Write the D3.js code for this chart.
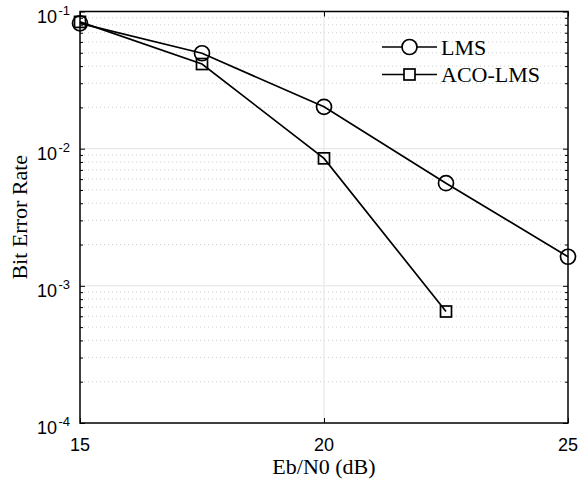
<!DOCTYPE html>
<html>
<head>
<meta charset="utf-8">
<script src="https://cdn.jsdelivr.net/npm/d3@7"></script>
<style>
  html, body { margin: 0; padding: 0; background: #fff; }
  svg { display: block; }
</style>
</head>
<body>
<svg id="chart" width="584" height="483"></svg>
<script>
// Bit error rate versus Eb/N0 for the two equalisers
const snrDb = [15, 17.5, 20, 22.5, 25];
const berLms = [0.082, 0.0496, 0.0202, 0.0056, 0.00163];
const berAcoLms = [0.084, 0.0414, 0.0085, 0.00065];
const seriesNames = ["LMS", "ACO-LMS"];
const xTicks = [15, 20, 25];
const yDecades = [-4, -3, -2, -1];

const svg = d3.select("#chart");
const m = { left: 80, right: 568, top: 11.5, bottom: 423 };

const x = d3.scaleLinear().domain([15, 25]).range([m.left, m.right]);
const y = d3.scaleLog().domain([1e-4, 1e-1]).range([m.bottom, m.top]);

const minorVals = [];
for (let d = -4; d < -1; d++) {
  for (let k = 2; k <= 9; k++) minorVals.push(k * Math.pow(10, d));
}
const majorVals = yDecades.map(d => Math.pow(10, d));

// grid
const grid = svg.append("g");
grid.selectAll("line.minor").data(minorVals).join("line")
  .attr("x1", m.left).attr("x2", m.right)
  .attr("y1", d => y(d)).attr("y2", d => y(d))
  .attr("stroke", "#cfcfcf").attr("stroke-width", 1)
  .attr("stroke-dasharray", "1,3");
grid.selectAll("line.major").data(majorVals.slice(1, -1)).join("line")
  .attr("x1", m.left).attr("x2", m.right)
  .attr("y1", d => y(d)).attr("y2", d => y(d))
  .attr("stroke", "#e3e3e3").attr("stroke-width", 1);
grid.selectAll("line.vx").data(xTicks.slice(1, -1)).join("line")
  .attr("x1", d => x(d)).attr("x2", d => x(d))
  .attr("y1", m.top).attr("y2", m.bottom)
  .attr("stroke", "#e3e3e3").attr("stroke-width", 1);

// axes with inward ticks
const axisStyle = g => {
  g.select(".domain").remove();
  g.selectAll(".tick line").attr("stroke", "#000").attr("stroke-width", 1);
  g.selectAll(".tick text").remove();
};
svg.append("g").attr("transform", `translate(0,${m.bottom})`)
  .call(d3.axisBottom(x).tickValues(xTicks).tickSize(-5)).call(axisStyle);
svg.append("g").attr("transform", `translate(0,${m.top})`)
  .call(d3.axisTop(x).tickValues(xTicks).tickSize(-5)).call(axisStyle);
svg.append("g").attr("transform", `translate(${m.left},0)`)
  .call(d3.axisLeft(y).tickValues(majorVals).tickSize(-5)).call(axisStyle);
svg.append("g").attr("transform", `translate(${m.right},0)`)
  .call(d3.axisRight(y).tickValues(majorVals).tickSize(-5)).call(axisStyle);
svg.append("g").attr("transform", `translate(${m.left},0)`)
  .call(d3.axisLeft(y).tickValues(minorVals).tickSize(-3)).call(axisStyle);
svg.append("g").attr("transform", `translate(${m.right},0)`)
  .call(d3.axisRight(y).tickValues(minorVals).tickSize(-3)).call(axisStyle);

// frame
svg.append("rect")
  .attr("x", m.left).attr("y", m.top)
  .attr("width", m.right - m.left).attr("height", m.bottom - m.top)
  .attr("fill", "none").attr("stroke", "#000").attr("stroke-width", 1.5);

// tick labels
const tickFont = "'Liberation Sans', Arial, sans-serif";
svg.append("g").selectAll("text").data(xTicks).join("text")
  .attr("x", d => x(d)).attr("y", m.bottom + 28)
  .attr("text-anchor", "middle")
  .attr("font-family", tickFont).attr("font-size", 18)
  .attr("fill", "#000")
  .text(d => d);

const yl = svg.append("g").selectAll("g").data(yDecades).join("g")
  .attr("transform", d => `translate(${m.left - 10},${y(Math.pow(10, d)) + 11})`);
yl.append("text")
  .attr("text-anchor", "end")
  .attr("font-family", tickFont).attr("font-size", 18).attr("fill", "#000")
  .attr("x", -13)
  .text("10");
yl.append("text")
  .attr("text-anchor", "end")
  .attr("font-family", tickFont).attr("font-size", 13).attr("fill", "#000")
  .attr("x", 0).attr("y", -8)
  .text(d => d < 0 ? "-" + Math.abs(d) : d);

// axis titles
const titleFont = "'Liberation Serif', 'Times New Roman', serif";
svg.append("text")
  .attr("x", x(20)).attr("y", 474)
  .attr("text-anchor", "middle")
  .attr("font-family", titleFont).attr("font-size", 22).attr("fill", "#000")
  .text("Eb/N0 (dB)");
svg.append("text")
  .attr("transform", `translate(27,${(m.top + m.bottom) / 2}) rotate(-90)`)
  .attr("text-anchor", "middle")
  .attr("font-family", titleFont).attr("font-size", 22).attr("fill", "#000")
  .text("Bit Error Rate");

// series
const line = d3.line().x(d => x(d[0])).y(d => y(d[1]));
const lmsPts = snrDb.map((s, i) => [s, berLms[i]]);
const acoPts = berAcoLms.map((b, i) => [snrDb[i], b]);

const plot = svg.append("g");
plot.append("path").datum(lmsPts).attr("d", line)
  .attr("fill", "none").attr("stroke", "#000").attr("stroke-width", 1.7);
plot.append("path").datum(acoPts).attr("d", line)
  .attr("fill", "none").attr("stroke", "#000").attr("stroke-width", 1.7);

const circleR = 7.5, sq = 11;
plot.selectAll("circle").data(lmsPts).join("circle")
  .attr("cx", d => x(d[0])).attr("cy", d => y(d[1])).attr("r", circleR)
  .attr("fill", "none").attr("stroke", "#000").attr("stroke-width", 1.7);
plot.selectAll("rect").data(acoPts).join("rect")
  .attr("x", d => x(d[0]) - sq / 2).attr("y", d => y(d[1]) - sq / 2)
  .attr("width", sq).attr("height", sq)
  .attr("fill", "none").attr("stroke", "#000").attr("stroke-width", 1.7);

// legend
const lg = svg.append("g").attr("transform", "translate(382,47)");
seriesNames.forEach((name, i) => {
  const row = lg.append("g").attr("transform", `translate(0,${i * 27.5})`);
  row.append("line").attr("x1", 0).attr("x2", 55).attr("y1", 0).attr("y2", 0)
    .attr("stroke", "#000").attr("stroke-width", 1.7);
  if (i === 0) {
    row.append("circle").attr("cx", 27.5).attr("cy", 0).attr("r", circleR)
      .attr("fill", "#fff").attr("stroke", "#000").attr("stroke-width", 1.7);
  } else {
    row.append("rect").attr("x", 27.5 - sq / 2).attr("y", -sq / 2)
      .attr("width", sq).attr("height", sq)
      .attr("fill", "#fff").attr("stroke", "#000").attr("stroke-width", 1.7);
  }
  row.append("text").attr("x", 59).attr("y", 7.5)
    .attr("font-family", titleFont).attr("font-size", 22).attr("fill", "#000")
    .text(name);
});
</script>
</body>
</html>
